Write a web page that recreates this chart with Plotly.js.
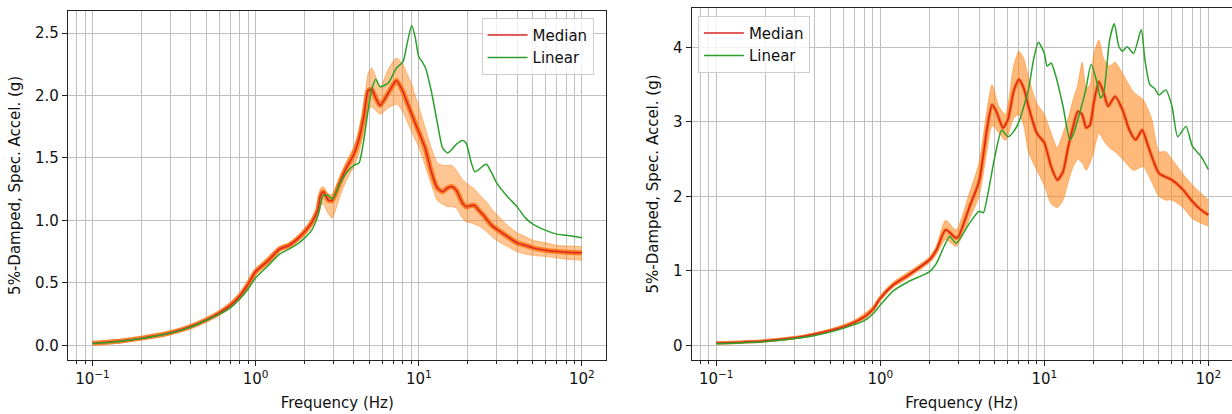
<!DOCTYPE html>
<html>
<head>
<meta charset="utf-8">
<script src="https://cdn.plot.ly/plotly-3.0.1.min.js"></script>
<style>html,body{margin:0;padding:0;background:#fff;}#chart{width:1232px;height:414px;}</style>
</head>
<body>
<div id="chart"></div>
<script>
// ---------- Left panel ----------
const freqLeft = [0.1,0.15,0.2,0.3,0.4,0.5,0.6,0.7,0.8,0.9,1.0,1.2,1.4,1.6,1.8,2.0,2.2,2.4,2.5,2.6,2.8,2.95,3.3,3.6,4.0,4.3,4.6,4.9,5.15,5.45,5.8,6.5,7.3,8.0,8.5,9.05,9.5,10,10.5,11,12,13,14,15,16,17,18.5,19.5,21,22,23,25,26,28,30,35,40,45,50,60,70,80,100];
const medianLeft = [0.016,0.035,0.057,0.10,0.15,0.205,0.26,0.32,0.395,0.49,0.59,0.68,0.77,0.80,0.85,0.91,0.98,1.08,1.20,1.23,1.16,1.16,1.31,1.42,1.53,1.65,1.83,2.04,2.05,1.98,1.92,2.02,2.12,2.03,1.94,1.85,1.78,1.71,1.64,1.57,1.38,1.26,1.23,1.26,1.27,1.24,1.14,1.11,1.12,1.12,1.09,1.04,1.01,0.96,0.93,0.87,0.82,0.80,0.78,0.76,0.75,0.745,0.74];
const linearLeft = [0.014,0.033,0.055,0.097,0.145,0.20,0.25,0.30,0.37,0.45,0.54,0.64,0.73,0.77,0.81,0.86,0.92,1.03,1.13,1.20,1.20,1.17,1.30,1.38,1.44,1.46,1.64,1.89,2.05,2.13,2.07,2.10,2.22,2.27,2.42,2.56,2.47,2.31,2.27,2.22,2.02,1.78,1.58,1.54,1.57,1.61,1.64,1.62,1.46,1.39,1.40,1.44,1.45,1.38,1.30,1.19,1.11,1.02,0.97,0.92,0.89,0.88,0.86];
const upperLeft = [0.018,0.037,0.06,0.105,0.155,0.21,0.27,0.33,0.41,0.51,0.61,0.71,0.79,0.82,0.87,0.93,1.0,1.12,1.26,1.27,1.21,1.21,1.36,1.47,1.59,1.72,1.91,2.18,2.22,2.15,2.06,2.21,2.30,2.25,2.17,2.09,2.0,1.91,1.82,1.73,1.57,1.46,1.44,1.44,1.44,1.40,1.33,1.30,1.27,1.25,1.22,1.17,1.15,1.09,1.05,0.96,0.90,0.87,0.84,0.82,0.80,0.795,0.79];
const lowerLeft = [0.014,0.033,0.054,0.096,0.145,0.20,0.25,0.31,0.38,0.47,0.56,0.65,0.75,0.78,0.83,0.88,0.95,1.03,1.12,1.13,1.05,1.02,1.20,1.32,1.43,1.54,1.70,1.88,1.91,1.88,1.85,1.90,1.93,1.87,1.79,1.71,1.65,1.59,1.51,1.43,1.28,1.16,1.13,1.11,1.11,1.10,1.02,0.99,0.98,0.97,0.96,0.93,0.91,0.87,0.84,0.79,0.75,0.73,0.72,0.71,0.70,0.69,0.68];

// ---------- Right panel ----------
const freqMedianRight = [0.1,0.2,0.3,0.4,0.5,0.6,0.7,0.8,0.9,1.0,1.2,1.5,2.0,2.2,2.5,2.9,3.0,3.5,4.0,4.5,4.8,5.1,5.6,6.0,6.5,7.0,7.5,8.0,9.0,10,11,12,13,14,15,16,17,18,19,20,21.5,23,24.5,27,30,33,36,39.5,43,50,60,70,80,90,100];
const medianRight = [0.03,0.06,0.10,0.15,0.20,0.25,0.31,0.38,0.48,0.63,0.81,0.95,1.15,1.28,1.55,1.44,1.46,1.86,2.20,2.94,3.23,3.14,2.92,3.03,3.41,3.57,3.45,3.21,2.85,2.72,2.40,2.22,2.33,2.67,2.94,3.14,3.10,2.92,2.96,3.25,3.54,3.39,3.21,3.34,3.16,2.89,2.76,2.89,2.67,2.31,2.22,2.09,1.93,1.82,1.75];
const freqLinearRight = [0.1,0.2,0.3,0.4,0.5,0.6,0.7,0.8,0.9,1.0,1.2,1.5,2.0,2.2,2.45,2.65,2.9,3.5,4.0,4.25,4.5,5.0,5.5,6.0,6.5,7.0,7.5,8.0,8.6,9.2,10,10.4,11,11.7,13,14.3,15,16,17.8,19.3,21,22,23,25,26.7,28.5,30,32,35,39,41,44,47,50,55,60,65,73,80,90,100];
const linearRight = [0.02,0.05,0.09,0.13,0.18,0.23,0.28,0.33,0.42,0.54,0.73,0.86,0.99,1.10,1.33,1.46,1.37,1.64,1.80,1.78,2.0,2.54,2.89,2.80,2.87,3.0,3.21,3.43,3.84,4.07,3.92,3.75,3.79,3.63,3.21,2.76,2.83,3.03,3.41,3.77,3.52,3.32,3.39,4.10,4.32,4.01,3.95,4.01,3.92,4.24,3.84,3.50,3.45,3.36,3.43,3.21,2.80,2.94,2.67,2.54,2.36];
const freqBandRight = [0.1,0.2,0.3,0.5,0.7,0.9,1.0,1.2,1.5,2.0,2.2,2.5,2.9,3.5,4.0,4.5,4.8,5.3,5.8,6.5,7.0,7.5,8.0,9.0,10,11,12,13,14,15,16,17,18,19,20,21.5,23,25,27,30,35,40,45,50,55,60,70,80,100];
const upperRight = [0.035,0.065,0.11,0.22,0.34,0.52,0.67,0.85,0.99,1.19,1.33,1.68,1.55,2.05,2.45,3.2,3.50,3.2,3.1,3.75,3.95,3.85,3.6,3.25,3.1,2.85,2.65,2.85,3.05,3.3,3.5,3.8,3.45,3.5,3.9,4.1,3.85,3.75,3.8,3.65,3.4,3.3,3.05,2.6,2.6,2.5,2.3,2.15,1.95];
const lowerRight = [0.025,0.055,0.09,0.19,0.29,0.45,0.60,0.78,0.91,1.11,1.22,1.42,1.33,1.70,2.0,2.65,2.95,2.85,2.75,3.05,3.1,2.95,2.6,2.35,2.15,1.9,1.85,1.95,2.2,2.4,2.5,2.45,2.35,2.45,2.6,2.85,2.75,2.65,2.6,2.5,2.35,2.4,2.2,2.0,1.95,1.95,1.85,1.7,1.6];

// ---------- Axis ticks & labels ----------
const xTickVals = [0.1, 1, 10, 100];
const xTickText = ['10<sup>\u22121</sup>', '10<sup>0</sup>', '10<sup>1</sup>', '10<sup>2</sup>'];
const xMinorVals = [0.08,0.09,0.2,0.3,0.4,0.5,0.6,0.7,0.8,0.9,2,3,4,5,6,7,8,9,20,30,40,50,60,70,80,90];
const yTickValsLeft = [0, 0.5, 1.0, 1.5, 2.0, 2.5];
const yTickTextLeft = ['0.0', '0.5', '1.0', '1.5', '2.0', '2.5'];
const yTickValsRight = [0, 1, 2, 3, 4];
const yTickTextRight = ['0', '1', '2', '3', '4'];
const xTitle = 'Frequency (Hz)';
const yTitle = '5%-Damped, Spec. Accel. (g)';
const seriesNames = ['Median', 'Linear'];

const RED = '#d62728', GREEN = '#2ca02c';
const SP = {shape: 'spline', smoothing: 0.6};

function panel(xa, ya, legendId, fBand, lo, up, fMed, med, fLin, lin, coreW, fillA) {
  return [
    {x: fBand, y: lo, xaxis: xa, yaxis: ya, mode: 'lines', showlegend: false, hoverinfo: 'skip',
     line: Object.assign({color: 'rgba(255,127,14,0.6)', width: 0.8}, SP)},
    {x: fBand, y: up, xaxis: xa, yaxis: ya, mode: 'lines', showlegend: false, hoverinfo: 'skip',
     fill: 'tonexty', fillcolor: 'rgba(255,127,14,' + fillA + ')',
     line: Object.assign({color: 'rgba(255,127,14,0.6)', width: 0.8}, SP)},
    {x: fMed, y: med, xaxis: xa, yaxis: ya, mode: 'lines', showlegend: false, hoverinfo: 'skip',
     line: Object.assign({color: 'rgba(255,110,10,0.85)', width: coreW}, SP)},
    {x: fMed, y: med, xaxis: xa, yaxis: ya, mode: 'lines', name: seriesNames[0], legend: legendId,
     line: Object.assign({color: RED, width: 1.5}, SP)},
    {x: fLin, y: lin, xaxis: xa, yaxis: ya, mode: 'lines', name: seriesNames[1], legend: legendId,
     line: Object.assign({color: GREEN, width: 1.5}, SP)}
  ];
}

const data = [].concat(
  panel('x', 'y', 'legend', freqLeft, lowerLeft, upperLeft, freqLeft, medianLeft, freqLeft, linearLeft, 5, 0.45),
  panel('x2', 'y2', 'legend2', freqBandRight, lowerRight, upperRight, freqMedianRight, medianRight, freqLinearRight, linearRight, 3.5, 0.55)
);

const FONT = {family: 'DejaVu Sans', size: 15, color: '#111'};
const GRID = '#bfbfbf';
function xaxis(domain, range) {
  return {type: 'log', domain: domain, range: range, tickmode: 'array', tickvals: xTickVals, ticktext: xTickText,
    ticks: 'outside', ticklen: 5, tickwidth: 1.1, tickcolor: '#222', showgrid: true, gridcolor: GRID, gridwidth: 1,
    minor: {tickmode: 'array', tickvals: xMinorVals, ticks: 'outside', ticklen: 3, tickwidth: 1, tickcolor: '#222',
            showgrid: true, gridcolor: GRID, gridwidth: 1},
    showline: true, mirror: true, linecolor: '#222', linewidth: 1.1, zeroline: false,
    tickfont: FONT, title: {text: xTitle, font: FONT, standoff: 10}, automargin: false};
}
function yaxis(domain, range, vals, text, anchor, mirror) {
  return {domain: domain, range: range, anchor: anchor, tickmode: 'array', tickvals: vals, ticktext: text,
    ticks: 'outside', ticklen: 5, tickwidth: 1.1, tickcolor: '#222', showgrid: true, gridcolor: GRID, gridwidth: 1,
    showline: true, mirror: mirror, linecolor: '#222', linewidth: 1.1, zeroline: false,
    tickfont: FONT, title: {text: yTitle, font: FONT, standoff: 10}, automargin: false};
}

const L = 68.2, R = 0, T = 8.3, B = 54;
const W = 1232, H = 414;
const pw = W - L - R, ph = H - T - B;
const px = v => (v - L) / pw;
const py = v => (H - B - v) / ph;

const legendStyle = {xanchor: 'left', yanchor: 'top', bgcolor: 'rgba(255,255,255,0.8)', traceorder: 'normal',
  bordercolor: '#cccccc', borderwidth: 1, font: FONT, tracegroupgap: 0, itemwidth: 40};

const layout = {
  width: W, height: H,
  margin: {l: L, r: R, t: T, b: B, pad: 0},
  paper_bgcolor: '#fff', plot_bgcolor: '#fff',
  font: FONT,
  showlegend: true,
  xaxis: Object.assign(xaxis([0, px(606.5)], [-1.15, 2.15]), {anchor: 'y'}),
  yaxis: yaxis([0, py(11)], [-0.118, 2.679], yTickValsLeft, yTickTextLeft, 'x', true),
  xaxis2: Object.assign(xaxis([px(691.7), 1], [-1.15, 2.144]), {anchor: 'y2'}),
  yaxis2: yaxis([0, 1], [-0.198, 4.53], yTickValsRight, yTickTextRight, 'x2', false),
  legend: Object.assign({x: px(481.7), y: py(18)}, legendStyle),
  legend2: Object.assign({x: px(698), y: py(16)}, legendStyle)
};

Plotly.newPlot('chart', data, layout, {displayModeBar: false, staticPlot: true});
</script>
</body>
</html>
